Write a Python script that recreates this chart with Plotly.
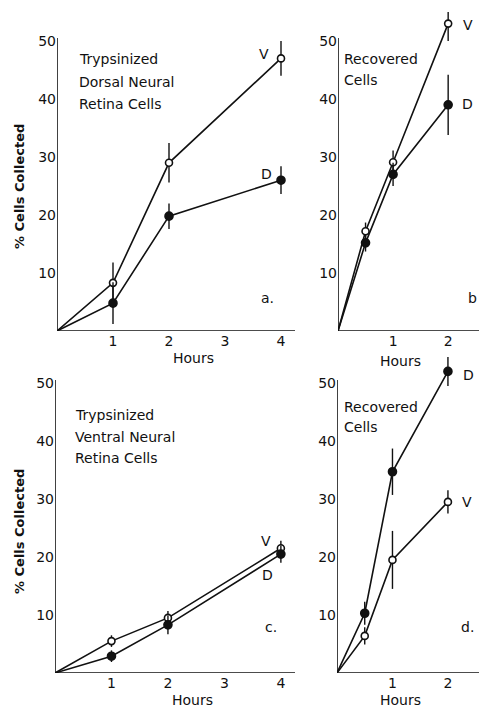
import plotly.graph_objects as go

W, H = 481, 709

# ---- data ----
hours_a = [0, 1, 2, 4]
a_V = [0, 8.3, 29.0, 47.0]
a_V_err = [0, 3.5, 3.4, 3.0]
a_D = [0, 4.8, 19.8, 26.0]
a_D_err = [0, 3.6, 2.2, 2.4]

hours_b = [0, 0.5, 1, 2]
b_V = [0, 17.2, 29.1, 53.0]
b_V_err = [0, 1.5, 2.0, 3.0]
b_D = [0, 15.2, 27.0, 39.0]
b_D_err = [0, 1.5, 2.0, 5.2]

hours_c = [0, 1, 2, 4]
c_V = [0, 5.5, 9.5, 21.5]
c_V_err = [0, 1.0, 1.2, 1.3]
c_D = [0, 2.9, 8.3, 20.5]
c_D_err = [0, 1.0, 1.6, 1.5]

hours_d = [0, 0.5, 1, 2]
d_D = [0, 10.3, 34.7, 52.0]
d_D_err = [0, 2.0, 4.0, 2.5]
d_V = [0, 6.4, 19.5, 29.5]
d_V_err = [0, 1.5, 5.0, 2.0]

y_ticks = [10, 20, 30, 40, 50]
x_ticks_long = [1, 2, 3, 4]
x_ticks_short = [1, 2]

FONT = "DejaVu Sans"
BLACK = "#111111"


def px(x):
    return x / W


def py(y):
    return 1 - y / H


fig = go.Figure()

panels = [
    ("a", "x", "y", hours_a, a_V, a_V_err, a_D, a_D_err, [0, 4.25], (57, 295), (331, 12), x_ticks_long),
    ("b", "x2", "y2", hours_b, b_V, b_V_err, b_D, b_D_err, [0, 2.56], (338, 479), (331, 12), x_ticks_short),
    ("c", "x3", "y3", hours_c, c_V, c_V_err, c_D, c_D_err, [0, 4.25], (55, 295), (673, 354), x_ticks_long),
    ("d", "x4", "y4", hours_d, d_V, d_V_err, d_D, d_D_err, [0, 2.56], (337, 479), (673, 354), x_ticks_short),
]

for name, xa, ya, hrs, V, Ve, D, De, xr, xd, yd, xt in panels:
    for vals, errs, filled in ((V, Ve, False), (D, De, True)):
        fig.add_trace(go.Scatter(
            x=hrs, y=vals, xaxis=xa, yaxis=ya, mode="lines",
            line=dict(color=BLACK, width=1.6), showlegend=False, hoverinfo="skip",
        ))
        fig.add_trace(go.Scatter(
            x=hrs[1:], y=vals[1:], xaxis=xa, yaxis=ya, mode="markers",
            marker=dict(size=8 if filled else 7, color=BLACK if filled else "white",
                        line=dict(color=BLACK, width=1.6)),
            error_y=dict(type="data", array=errs[1:], visible=True, color=BLACK,
                         thickness=1.4, width=0),
            cliponaxis=False, showlegend=False,
        ))
    xkey = "xaxis" + xa[1:]
    ykey = "yaxis" + ya[1:]
    fig.layout[xkey] = dict(
        domain=[px(xd[0]), px(xd[1])], range=xr, anchor=ya,
        showgrid=False, zeroline=False, showline=False, ticks="",
        tickvals=xt, ticktext=[str(t) for t in xt],
        tickfont=dict(family=FONT, size=14, color=BLACK),
    )
    fig.layout[ykey] = dict(
        domain=[py(yd[0]), py(yd[1])], range=[0, 55], anchor=xa,
        showgrid=False, zeroline=False, showline=False, ticks="",
        tickvals=y_ticks, ticktext=[str(t) for t in y_ticks],
        tickfont=dict(family=FONT, size=14, color=BLACK),
    )
    fig.add_shape(type="line", xref=xa, yref=ya, x0=0, x1=0, y0=0, y1=50.5,
                  line=dict(color=BLACK, width=1.6))
    fig.add_shape(type="line", xref=xa, yref=ya, x0=0, x1=xr[1], y0=0, y1=0,
                  line=dict(color=BLACK, width=1.6))

annots = [
    ("Trypsinized", 77, 59, "left"),
    ("Dorsal Neural", 77, 82, "left"),
    ("Retina Cells", 77, 104, "left"),
    ("Recovered", 342, 59, "left"),
    ("Cells", 342, 80, "left"),
    ("Trypsinized", 73, 415, "left"),
    ("Ventral Neural", 73, 437, "left"),
    ("Retina Cells", 73, 458, "left"),
    ("Recovered", 342, 407, "left"),
    ("Cells", 342, 427, "left"),
    ("V", 264, 54, "center"),
    ("D", 266, 174, "center"),
    ("V", 468, 25, "center"),
    ("D", 467, 104, "center"),
    ("V", 266, 541, "center"),
    ("D", 267, 575, "center"),
    ("D", 468, 375, "center"),
    ("V", 467, 502, "center"),
    ("a.", 267, 298, "center"),
    ("b", 472, 298, "center"),
    ("c.", 271, 627, "center"),
    ("d.", 467, 627, "center"),
    ("Hours", 193, 358, "center"),
    ("Hours", 400, 361, "center"),
    ("Hours", 192, 700, "center"),
    ("Hours", 400, 700, "center"),
]
for text, x, y, anc in annots:
    fig.add_annotation(
        x=px(x), y=py(y), xref="paper", yref="paper", text=text, showarrow=False,
        xanchor=anc, yanchor="middle", align="left",
        font=dict(family=FONT, size=14, color=BLACK),
    )

for yc in (187, 532):
    fig.add_annotation(
        x=px(19), y=py(yc), xref="paper", yref="paper", text="<b>% Cells Collected</b>",
        showarrow=False, textangle=-90, xanchor="center", yanchor="middle",
        font=dict(family=FONT, size=13, color=BLACK),
    )

fig.update_layout(
    width=W, height=H, margin=dict(l=0, r=0, t=0, b=0),
    paper_bgcolor="white", plot_bgcolor="white",
)

fig.write_html(
    "out.html",
    config={"displayModeBar": False},
    post_script="document.body.style.margin='0';document.body.style.overflow='hidden';",
)
